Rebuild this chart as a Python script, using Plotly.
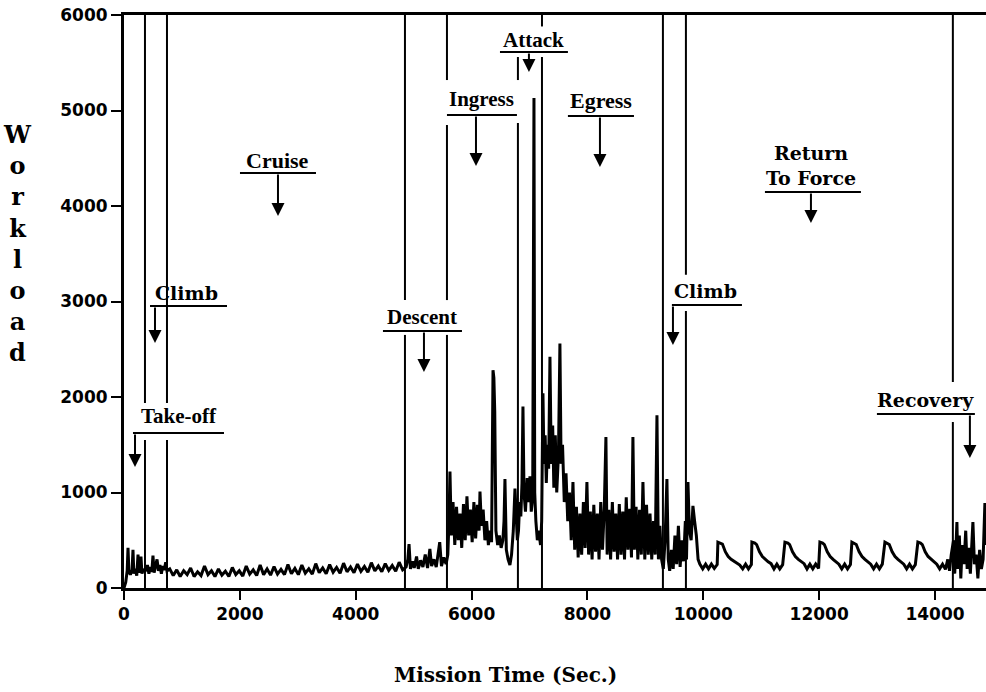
import plotly.graph_objects as go

# ---- workload trace (mission time in seconds, workload units) ----
mission_time_s = [
    0, 30, 55, 69, 85, 110, 140, 155, 170, 195, 220, 242, 258, 280, 293, 310, 335, 355,
    380, 405, 430, 455, 480, 500, 520, 545, 570, 595, 620, 645, 670, 695, 720, 742,
    790, 850, 910, 970, 1030, 1090, 1150, 1210, 1270, 1330, 1390, 1450, 1510, 1570, 1630, 1690,
    1750, 1810, 1870, 1930, 1990, 2050, 2110, 2170, 2230, 2290, 2350, 2410, 2470, 2530, 2590, 2650,
    2710, 2770, 2830, 2890, 2950, 3010, 3070, 3130, 3190, 3250, 3310, 3370, 3430, 3490, 3550, 3610,
    3670, 3730, 3790, 3850, 3910, 3970, 4030, 4090, 4150, 4210, 4270, 4330, 4390, 4450, 4510, 4570,
    4630, 4690, 4750, 4810,
    4870, 4900, 4920, 4945, 4980, 5010, 5050, 5080, 5120, 5160, 5200, 5240, 5280, 5310, 5350, 5390,
    5420, 5450, 5480, 5520, 5560,
    5590, 5610, 5627, 5650, 5680, 5710, 5740, 5770, 5800, 5830, 5860, 5890, 5920, 5950, 5980, 6010,
    6040, 6070, 6100, 6130, 6145, 6170, 6200, 6230, 6260, 6290, 6320, 6345, 6370, 6385, 6400, 6420,
    6450, 6480, 6510, 6540, 6560, 6576, 6600, 6630, 6662, 6690, 6720, 6749, 6770, 6790,
    6810, 6830, 6850, 6870, 6887, 6905, 6930, 6960, 6985, 7008, 7030, 7055, 7077, 7090, 7110, 7135,
    7160, 7190, 7210,
    7232, 7250, 7270, 7290, 7310, 7330, 7353, 7375, 7400, 7420, 7445, 7470, 7500, 7525, 7545, 7570,
    7600, 7630, 7660, 7690, 7720, 7750, 7780, 7810, 7840, 7870, 7900, 7930, 7960, 7991, 8020, 8050,
    8080, 8110, 8140, 8170, 8200, 8230, 8260, 8290, 8319, 8340, 8370, 8400, 8430, 8460, 8490, 8520,
    8550, 8580, 8610, 8640, 8670, 8700, 8730, 8760, 8785, 8810, 8840, 8870, 8900, 8930, 8958, 8990,
    9020, 9050, 9080, 9110, 9140, 9170, 9200, 9225, 9250, 9280,
    9310, 9340, 9372, 9395, 9420, 9450, 9480, 9510, 9540, 9570, 9600, 9630, 9660, 9690, 9710, 9735,
    9760, 9790, 9821, 9850, 9880, 9910, 9940,
    9990, 10040, 10090, 10140, 10190, 10240, 10252, 10300, 10330, 10380, 10430, 10480, 10530, 10580,
    10630, 10680, 10730, 10780, 10830, 10839, 10890, 10920, 10970, 11020, 11070, 11120, 11170, 11220,
    11270, 11320, 11370, 11409, 11460, 11490, 11540, 11590, 11640, 11690, 11740, 11790, 11840, 11890,
    11940, 11990, 12013, 12060, 12090, 12140, 12190, 12240, 12290, 12340, 12390, 12440, 12490, 12540,
    12565, 12610, 12640, 12690, 12740, 12790, 12840, 12890, 12940, 12990, 13040, 13090, 13135, 13180,
    13210, 13260, 13310, 13360, 13410, 13460, 13510, 13560, 13610, 13660, 13704, 13750, 13780, 13830,
    13880, 13930, 13980, 14030, 14080, 14130, 14180, 14220, 14250, 14280,
    14320, 14340, 14360, 14378, 14395, 14420, 14445, 14470, 14500, 14530, 14555, 14580, 14610, 14640,
    14654, 14680, 14710, 14740, 14770, 14800, 14830, 14861, 14880,
]

workload = [
    0, 60, 180, 420, 170, 140, 190, 400, 150, 200, 130, 350, 160, 210, 330, 150, 200, 170,
    190, 240, 150, 220, 170, 340, 160, 250, 300, 180, 240, 150, 230, 190, 270, 180,
    200, 130, 190, 120, 180, 140, 210, 120, 170, 130, 230, 140, 180, 120, 200, 135,
    175, 120, 215, 140, 180, 125, 230, 145, 190, 130, 240, 140, 200, 135, 225, 145,
    195, 140, 245, 150, 205, 140, 240, 155, 200, 145, 255, 160, 210, 150, 245, 165,
    215, 155, 260, 170, 220, 160, 250, 175, 225, 165, 265, 180, 230, 170, 255, 185,
    235, 175, 270, 190,
    220, 300, 460, 200, 280, 210, 330, 200, 290, 220, 350, 210, 410, 230, 300, 220,
    330, 480, 230, 320, 250,
    350, 700, 1220, 550, 900, 450, 850, 500, 780, 420, 880, 500, 960, 550, 820, 480,
    900, 520, 870, 600, 1010, 650, 820, 500, 700, 450, 600, 480, 2280, 2200, 1850, 600,
    450, 550, 420, 500, 700, 1140, 400, 300, 240, 350, 600, 1040, 700, 500,
    600, 900, 750, 1100, 1900, 1000, 800, 1150, 900, 1170, 800, 950, 5130, 1000, 700, 500,
    600, 450, 700,
    2040, 1300, 1600, 1100, 1500, 1250, 2420, 1300, 1700, 1050, 1600, 1000, 1400, 2560, 1300, 1500,
    900, 1200, 700, 1000, 500, 1110, 400, 850, 320, 780, 350, 900, 420, 1110, 350, 800,
    300, 870, 380, 780, 300, 900, 400, 820, 1580, 350, 820, 300, 900, 380, 780, 300,
    880, 350, 800, 300, 950, 400, 830, 320, 1580, 400, 850, 300, 820, 350, 1110, 300,
    870, 350, 780, 300, 700, 350, 1810, 300, 650, 300,
    200, 500, 1140, 300, 180, 400, 200, 550, 250, 650, 220, 500, 280, 700, 300, 1110,
    600, 500, 860, 700, 550, 300, 250,
    200, 250, 200, 250, 205, 245, 480, 470, 460, 380, 330, 300, 280, 260,
    240, 200, 250, 200, 245, 480, 470, 455, 380, 330, 300, 275, 255, 200,
    250, 200, 245, 480, 470, 455, 380, 330, 300, 275, 255, 200, 250, 200,
    250, 205, 480, 470, 455, 380, 330, 300, 275, 250, 200, 250, 200, 245,
    480, 470, 455, 380, 330, 300, 275, 250, 200, 250, 200, 250, 480, 470,
    455, 380, 330, 300, 275, 250, 200, 250, 200, 245, 480, 470, 455, 380,
    330, 300, 275, 250, 200, 250, 195, 300, 180, 350,
    500, 150, 400, 690, 200, 550, 100, 450, 250, 600, 200, 420, 150, 500,
    690, 250, 350, 100, 400, 200, 300, 890, 450,
]

x_ticks = [0, 2000, 4000, 6000, 8000, 10000, 12000, 14000]
x_tick_text = ["0", "2000", "4000", "6000", "8000", "10000", "12000", "14000"]
y_ticks = [0, 1000, 2000, 3000, 4000, 5000, 6000]
y_tick_text = ["0", "1000", "2000", "3000", "4000", "5000", "6000"]

# phase boundary times (s) and the workload spans each line is drawn over
phase_boundaries = [362, 742, 4850, 5575, 6800, 7215, 9303, 9700, 14308]
boundary_spans = [
    [(0, 1550), (1937, 6000)],
    [(0, 1550), (1937, 6000)],
    [(0, 2650), (3015, 6000)],
    [(0, 2650), (3015, 4848), (5319, 6000)],
    [(0, 4868), (5319, 5560)],
    [(0, 5560), (5880, 6000)],
    [(0, 6000)],
    [(0, 2900), (3280, 6000)],
    [(0, 1738), (2157, 6000)],
]

# phase names: label position, underline extent and arrow
phase_names = ["Take-off", "Climb", "Cruise", "Descent", "Ingress", "Attack",
               "Egress", "Climb", "Return<br>To Force", "Recovery"]
label_x = [949, 1087, 2658, 5144, 6179, 7077, 8233, 10045, 11858, 13843]
label_y = [1801, 3089, 4481, 2837, 5120, 5738, 5109, 3110, 4420, 1968]
underline_x0 = [155, 449, 2002, 4470, 5575, 6490, 7663, 9458, 11064, 12997]
underline_x1 = [1726, 1778, 3314, 5834, 6783, 7663, 8803, 10667, 12721, 14688]
underline_y = [1623, 2953, 4345, 2691, 4952, 5612, 4942, 2963, 4146, 1822]
arrow_x = [190, 535, 2658, 5178, 6076, 6990, 8216, 9476, 11858, 14602]
arrow_tip_y = [1267, 2565, 3895, 2262, 4418, 5403, 4408, 2544, 3822, 1361]

slab_font = "DejaVu Serif"
script_font = "Liberation Serif"
label_fonts = [script_font, slab_font, script_font, script_font, script_font,
               script_font, script_font, slab_font, slab_font, slab_font]
label_sizes = [21, 19, 22, 21, 21, 21, 22, 19, 19, 19]

fig = go.Figure()
fig.add_trace(go.Scatter(
    x=mission_time_s, y=workload, mode="lines",
    line=dict(color="black", width=3), showlegend=False, hoverinfo="skip",
))

shapes = []
for t, spans in zip(phase_boundaries, boundary_spans):
    for y0, y1 in spans:
        shapes.append(dict(type="line", xref="x", yref="y", x0=t, x1=t, y0=y0, y1=y1,
                           line=dict(color="black", width=2), layer="above"))
for x0, x1, y in zip(underline_x0, underline_x1, underline_y):
    shapes.append(dict(type="line", xref="x", yref="y", x0=x0, x1=x1, y0=y, y1=y,
                       line=dict(color="black", width=2), layer="above"))

annotations = []
for name, x, y, fnt, sz in zip(phase_names, label_x, label_y, label_fonts, label_sizes):
    annotations.append(dict(x=x, y=y, xref="x", yref="y", text=name, showarrow=False,
                            font=dict(family=fnt, size=sz, color="black", weight="bold"),
                            xanchor="center", yanchor="middle"))
for x, y_top, y_tip in zip(arrow_x, underline_y, arrow_tip_y):
    annotations.append(dict(x=x, y=y_tip, ax=x, ay=y_top, xref="x", yref="y",
                            axref="x", ayref="y", text="", showarrow=True,
                            arrowhead=2, arrowsize=1.3, arrowwidth=2, arrowcolor="black"))

# stacked y-axis title and x-axis title
annotations.append(dict(x=-0.124, y=0.602, xref="paper", yref="paper",
                        text="<br>".join("Workload"), showarrow=False,
                        font=dict(family="DejaVu Serif", size=24, color="black", weight="bold"),
                        xanchor="center", yanchor="middle", align="center"))
annotations.append(dict(x=0.442, y=-0.152, xref="paper", yref="paper",
                        text="Mission Time (Sec.)", showarrow=False,
                        font=dict(family="DejaVu Serif", size=20, color="black", weight="bold"),
                        xanchor="center", yanchor="middle"))

fig.update_layout(
    width=986, height=692,
    margin=dict(l=124, r=0, t=15, b=104),
    paper_bgcolor="white", plot_bgcolor="white",
    shapes=shapes, annotations=annotations,
    xaxis=dict(range=[0, 14880], tickvals=x_ticks, ticktext=x_tick_text,
               showgrid=False, zeroline=False,
               showline=True, linecolor="black", linewidth=3, mirror=True,
               ticks="outside", ticklen=9, tickwidth=2, tickcolor="black",
               tickfont=dict(family="DejaVu Sans", size=17, color="black", weight="bold")),
    yaxis=dict(range=[0, 6000], tickvals=y_ticks, ticktext=y_tick_text,
               showgrid=False, zeroline=False,
               showline=True, linecolor="black", linewidth=3,
               ticks="outside", ticklen=10, tickwidth=2, tickcolor="black",
               tickfont=dict(family="DejaVu Sans", size=17, color="black", weight="bold")),
)

fig.write_html("out.html")
